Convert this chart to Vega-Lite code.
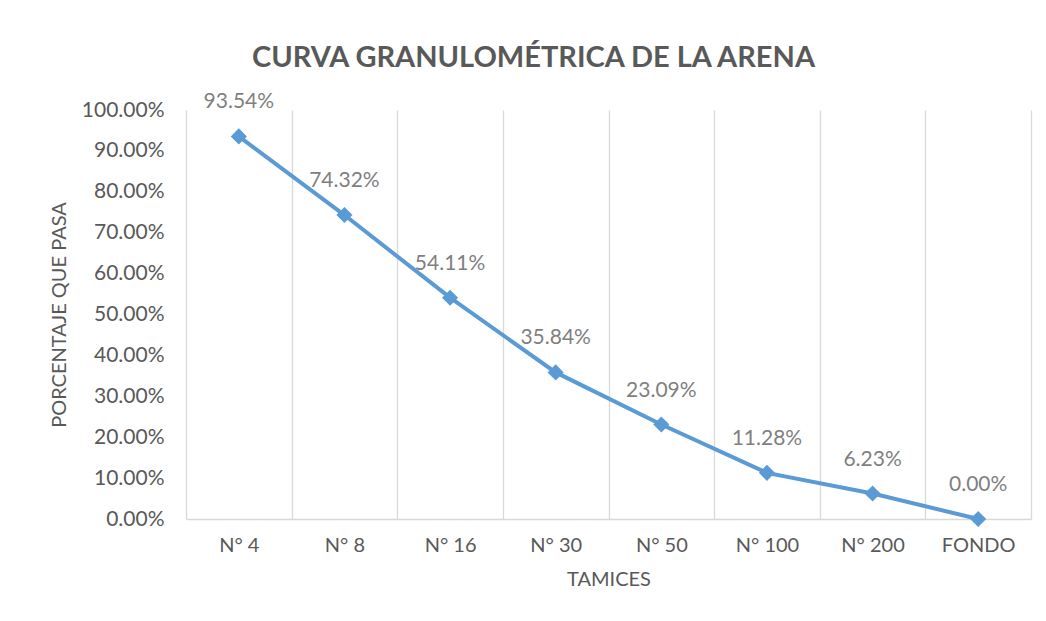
{
  "$schema": "https://vega.github.io/schema/vega-lite/v6.json",
  "width": 845,
  "height": 409,
  "autosize": "none",
  "padding": {"left": 186, "top": 110, "right": 15, "bottom": 102},
  "background": "white",
  "title": {
    "text": "CURVA GRANULOMÉTRICA DE LA ARENA",
    "font": "Lato",
    "fontSize": 29,
    "fontWeight": "bold",
    "color": "#595959",
    "anchor": "middle",
    "dx": -75,
    "offset": 18
  },
  "data": {
    "values": [
      {"tamiz": "N° 4", "pasa": 0.9354},
      {"tamiz": "N° 8", "pasa": 0.7432},
      {"tamiz": "N° 16", "pasa": 0.5411},
      {"tamiz": "N° 30", "pasa": 0.3584},
      {"tamiz": "N° 50", "pasa": 0.2309},
      {"tamiz": "N° 100", "pasa": 0.1128},
      {"tamiz": "N° 200", "pasa": 0.0623},
      {"tamiz": "FONDO", "pasa": 0.0}
    ]
  },
  "encoding": {
    "x": {
      "field": "tamiz",
      "type": "ordinal",
      "sort": null,
      "scale": {"paddingInner": 0, "paddingOuter": 0},
      "axis": {
        "title": "TAMICES",
        "labelAngle": 0,
        "tickBand": "extent",
        "grid": true,
        "gridColor": "#D9D9D9",
        "gridWidth": 1.3,
        "ticks": false,
        "domainColor": "#D9D9D9",
        "domainWidth": 1.5,
        "labelFont": "Lato",
        "labelFontSize": 20,
        "labelColor": "#595959",
        "labelPadding": 16,
        "titleFont": "Lato",
        "titleFontSize": 20,
        "titleFontWeight": "normal",
        "titleColor": "#595959",
        "titlePadding": 14
      }
    },
    "y": {
      "field": "pasa",
      "type": "quantitative",
      "scale": {"domain": [0, 1], "nice": false},
      "axis": {
        "title": "PORCENTAJE QUE PASA",
        "values": [0, 0.1, 0.2, 0.3, 0.4, 0.5, 0.6, 0.7, 0.8, 0.9, 1.0],
        "format": ".2%",
        "grid": false,
        "domain": false,
        "ticks": false,
        "labelFont": "Lato",
        "labelFontSize": 21,
        "labelColor": "#595959",
        "labelPadding": 22,
        "titleFont": "Lato",
        "titleFontSize": 20,
        "titleFontWeight": "normal",
        "titleColor": "#595959",
        "titlePadding": 12
      }
    }
  },
  "layer": [
    {"mark": {"type": "line", "color": "#5B9BD5", "strokeWidth": 4}},
    {"mark": {"type": "point", "shape": "diamond", "filled": true, "opacity": 1, "color": "#5B9BD5", "size": 260}},
    {
      "mark": {"type": "text", "dy": -34, "font": "Lato", "fontSize": 21, "color": "#7F7F7F"},
      "encoding": {"text": {"field": "pasa", "type": "quantitative", "format": ".2%"}}
    }
  ],
  "config": {"view": {"stroke": null}}
}
